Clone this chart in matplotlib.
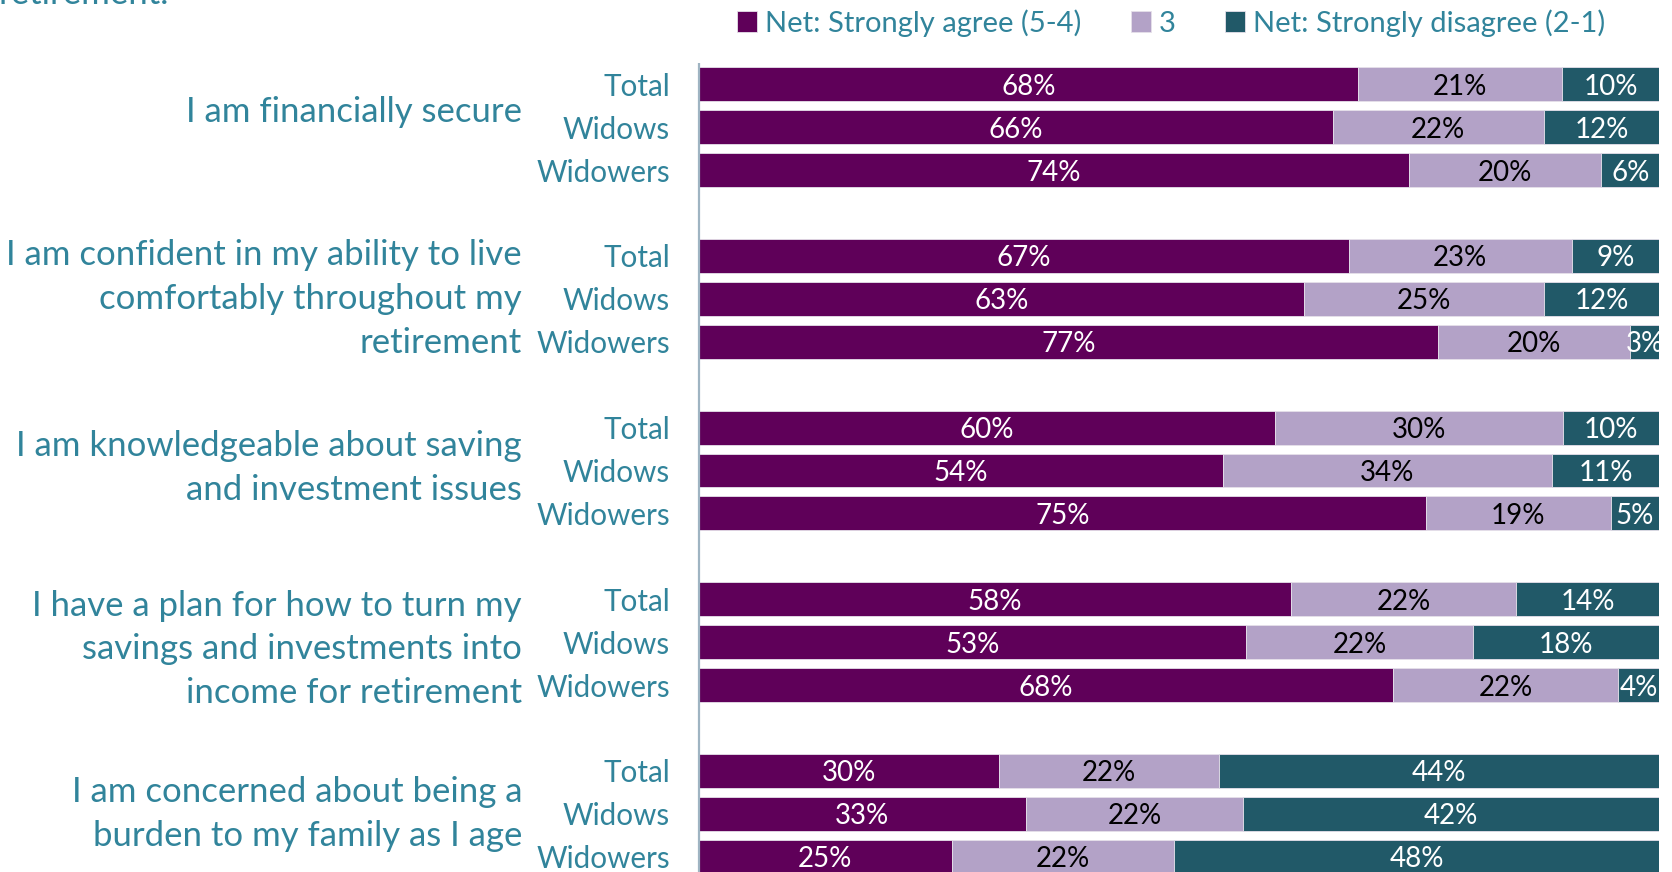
import matplotlib
matplotlib.use("Agg")
import matplotlib.pyplot as plt
import numpy as np

statements = [
    "I am financially secure",
    "I am confident in my ability to live\ncomfortably throughout my\nretirement",
    "I am knowledgeable about saving\nand investment issues",
    "I have a plan for how to turn my\nsavings and investments into\nincome for retirement",
    "I am concerned about being a\nburden to my family as I age",
]
groups = ["Total", "Widows", "Widowers"]
series_names = ["Net: Strongly agree (5-4)", "3", "Net: Strongly disagree (2-1)"]

# percentages per statement, rows = Total / Widows / Widowers
agree = [[68, 66, 74], [67, 63, 77], [60, 54, 75], [58, 53, 68], [30, 33, 25]]
neutral = [[21, 22, 20], [23, 25, 20], [30, 34, 19], [22, 22, 22], [22, 22, 22]]
disagree = [[10, 12, 6], [9, 12, 3], [10, 11, 5], [14, 18, 4], [44, 42, 48]]

colors = ["#5F0059", "#B3A2C7", "#215968"]
label_colors = ["white", "black", "white"]
text_teal = "#31849B"
font = "Lato"

# vertical nudge of each statement label, in row units
statement_shift = [-0.35, 0.0, -0.05, 0.17, 0.0]

plt.rcParams["font.family"] = [font, "DejaVu Sans"]

fig = plt.figure(figsize=(16.72, 8.72), dpi=100)
W, H = 1672, 872
ax_left, ax_right = 699, 1659
ax = fig.add_axes([ax_left / W, 0, (ax_right - ax_left) / W, 1])

slot_px = 42.92
first_px = 84.2
ax.set_ylim((H - first_px) / slot_px, -first_px / slot_px)
ax.set_xlim(0, 100)
ax.axis("off")

px_to_x = 100 / (ax_right - ax_left)

values = np.array([agree, neutral, disagree], dtype=float)  # (3, 5, 3)
handles = []
for gi in range(len(statements)):
    totals = values[:, gi, :].sum(axis=0)
    ys = np.arange(3) + gi * 4
    left = np.zeros(3)
    for si in range(3):
        raw = values[si, gi, :]
        share = raw / totals * 100
        bars = ax.barh(ys, share, left=left, height=0.79, color=colors[si],
                       edgecolor="#e6e0ea", linewidth=0.6)
        if gi == 0:
            handles.append(bars)
        for y, l, w, r in zip(ys, left, share, raw):
            ax.text(l + w / 2, y, f"{int(r)}%", ha="center", va="center_baseline",
                    color=label_colors[si], fontsize=20, clip_on=True)
        left = left + share
    for ri, g in enumerate(groups):
        ax.text(-29 * px_to_x, ys[ri], g, ha="right", va="center_baseline",
                color=text_teal, fontsize=21.3, clip_on=False)
    ax.text(-177 * px_to_x, ys[1] + statement_shift[gi], statements[gi],
            ha="right", va="center", color=text_teal, fontsize=25,
            linespacing=1.45, clip_on=False)

# left axis rule
ax.plot([0, 0], [-0.49, ax.get_ylim()[0]], color="#9FB4C2", lw=1.6,
        clip_on=False, solid_capstyle="butt")

# title tail running off the top edge
fig.text(-0.001, 1 - 4 / H, "retirement.", ha="left", va="baseline",
         color=text_teal, fontsize=25)

leg = fig.legend(handles, series_names, loc="center left",
                 bbox_to_anchor=(737 / W, 1 - 23 / H), ncol=3, frameon=False,
                 fontsize=21, handlelength=0.7, handleheight=0.7,
                 handletextpad=0.25, columnspacing=1.7, borderpad=0,
                 borderaxespad=0)
for t in leg.get_texts():
    t.set_color(text_teal)

fig.savefig("out.png", dpi=100)
